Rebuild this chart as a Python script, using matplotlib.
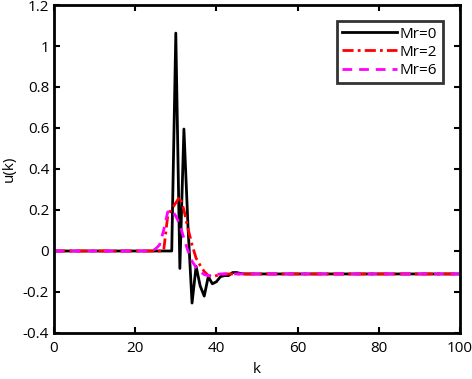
import matplotlib
matplotlib.use('Agg')
import matplotlib.pyplot as plt

# Mr=0
k0 = [0, 29, 30, 31, 32, 33, 34, 35, 36, 37, 38, 39, 40, 41, 42, 43, 44, 45, 46, 47, 100]
u0 = [0, 0, 1.063, -0.085, 0.595, 0.12, -0.254, -0.075, -0.17, -0.22, -0.125,
      -0.16, -0.15, -0.125, -0.12, -0.12, -0.105, -0.105, -0.11, -0.112, -0.112]

# Mr=2
k2 = [0, 27, 28, 29, 30, 31, 32, 33, 34, 35, 36, 37, 38, 39, 40, 41, 42, 100]
u2 = [0, 0, 0.17, 0.205, 0.235, 0.265, 0.2, 0.11, 0.03, -0.035, -0.07,
      -0.1, -0.12, -0.125, -0.12, -0.115, -0.112, -0.112]

# Mr=6
k6 = [0, 24, 25, 26, 27, 28, 29, 30, 31, 32, 33, 34, 35, 36, 37, 38, 39, 40, 41, 100]
u6 = [0, 0, 0.01, 0.03, 0.1, 0.19, 0.2, 0.17, 0.13, 0.06, 0.0, -0.05,
      -0.08, -0.1, -0.115, -0.12, -0.12, -0.115, -0.112, -0.112]

plt.rcParams['font.family'] = ['Open Sans', 'DejaVu Sans']

fig = plt.figure(figsize=(4.72, 3.79), dpi=100)
ax = fig.add_axes([0.1144, 0.1214, 0.8602, 0.8654])

ax.plot(k0, u0, color='black', linewidth=2, label='Mr=0')
ax.plot(k2, u2, color='red', linewidth=2, linestyle=(0, (4, 1.5, 1, 1.5)), label='Mr=2')
ax.plot(k6, u6, color='magenta', linewidth=2, linestyle=(0, (3.5, 2.5)), label='Mr=6')

ax.set_xlim(0, 100)
ax.set_ylim(-0.4, 1.2)
ax.set_xticks([0, 20, 40, 60, 80, 100])
ax.set_yticks([-0.4, -0.2, 0, 0.2, 0.4, 0.6, 0.8, 1, 1.2])
ax.set_yticklabels(['-0.4', '-0.2', '0', '0.2', '0.4', '0.6', '0.8', '1', '1.2'])
ax.tick_params(direction='in', top=True, right=True, length=4, width=1.5, labelsize=11)
ax.tick_params(axis='x', pad=6)
for s in ax.spines.values():
    s.set_linewidth(2)
ax.set_xlabel('k', fontsize=11, labelpad=4)
ax.set_ylabel('u(k)', fontsize=11, labelpad=4)

leg = ax.legend(loc='upper right', fontsize=11, frameon=True, fancybox=False,
                edgecolor='black', handlelength=3.6, borderpad=0.35, labelspacing=0.2,
                handletextpad=0.15, borderaxespad=0, bbox_to_anchor=(0.957, 0.95))
leg.get_frame().set_linewidth(2)

fig.savefig('out.png', dpi=100)
